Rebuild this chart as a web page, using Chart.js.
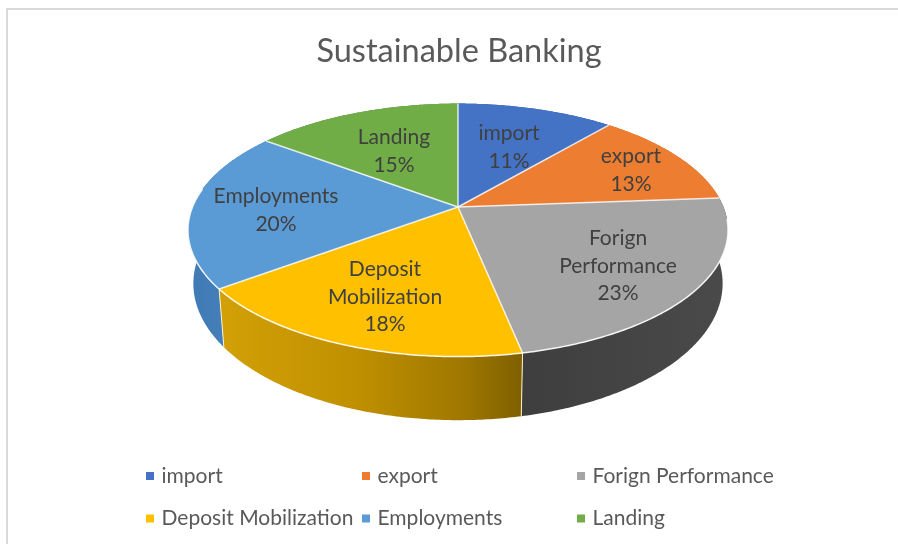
<!DOCTYPE html>
<html>
<head>
<meta charset="utf-8">
<style>
html,body{margin:0;padding:0;background:#fff;overflow:hidden;width:898px;height:544px}
#frame{position:absolute;left:6px;top:8px;right:0;bottom:0;border-left:2px solid #d9d9d9;border-top:2px solid #d9d9d9}
#wrap{position:absolute;left:0;top:0;width:898px;height:544px}
</style>
<script src="https://cdn.jsdelivr.net/npm/chart.js@4/dist/chart.umd.min.js"></script>
</head>
<body>
<div id="frame"></div>
<div id="wrap"><canvas id="c" width="898" height="544"></canvas></div>
<script>
const titleText = "Sustainable Banking";
const categories = ["import","export","Forign Performance","Deposit Mobilization","Employments","Landing"];
const shares = [11.2,12.6,23.0,18.0,20.4,14.8];
const faceColors = ["#4472C4","#ED7D31","#A5A5A5","#FFC000","#5B9BD5","#70AD47"];
const wallFromColors = ["#2F5597","#C55A11","#4A4A4A","#7F6000","#4A85BE","#548235"];
const wallToColors = ["#2F5597","#C55A11","#3E3E3E","#D2A006","#3F7AB5","#548235"];
const labelLines = [["import"],["export"],["Forign","Performance"],["Deposit","Mobilization"],["Employments"],["Landing"]];
const labelCentres = [[509,147],[631,170],[618,266],[385,297],[276,210],[394,151]];
const legendColumns = [146,362,577];
const legendRows = [476,518.5];

const FONT = "Lato, Carlito, sans-serif";
// Projection of the pie's plane (a tilted disc seen in perspective)
const P = {cx:458, cy:207, A:265.5, B:122.3, k:0.1825, wallXScale:0.98, wallY0:345, wallYT:287, wallYS:1.08};
function facePt(a, f=1){
  const u=Math.cos(a)*f, v=Math.sin(a)*f, w=1-P.k*v;
  return [P.cx+P.A*u/w, P.cy+P.B*v/w];
}
function wallPt(a){
  const t=facePt(a);
  return [P.cx+(t[0]-P.cx)*P.wallXScale, P.wallY0+P.wallYS*(t[1]-P.wallYT)];
}
function arcPoints(fn,s,e){
  const n=Math.max(8,Math.ceil((e-s)/0.01)), pts=[];
  for(let i=0;i<=n;i++) pts.push(fn(s+(e-s)*i/n));
  return pts;
}
function trace(ctx,pts){pts.forEach((p,i)=>i?ctx.lineTo(p[0],p[1]):ctx.moveTo(p[0],p[1]));}

const pie3d = {
  id:"pie3d",
  beforeDatasetsDraw(chart){
    const ctx=chart.ctx, arcs=chart.getDatasetMeta(0).data;
    ctx.save();
    // walls
    arcs.forEach((el,i)=>{
      const {startAngle:s,endAngle:e}=el;
      const tp=arcPoints(facePt,s,e), bt=arcPoints(wallPt,s,e).reverse();
      const xs=tp.concat(bt).map(p=>p[0]);
      const g=ctx.createLinearGradient(Math.min(...xs),0,Math.max(...xs),0);
      g.addColorStop(0,wallToColors[i]); g.addColorStop(1,wallFromColors[i]);
      if(i===3){ g.addColorStop(0.45,"#C09000"); g.addColorStop(0.8,"#A07800"); }
      ctx.beginPath(); trace(ctx,tp.concat(bt)); ctx.closePath();
      ctx.fillStyle=g; ctx.fill();
    });
    // wall separators on the visible front
    ctx.strokeStyle="#fff2cc"; ctx.lineWidth=1;
    arcs.forEach(el=>{
      const a=el.startAngle, t=facePt(a);
      if(Math.sin(a)>0.3){
        const b=wallPt(a);
        ctx.beginPath(); ctx.moveTo(t[0],t[1]); ctx.lineTo(b[0],b[1]); ctx.stroke();
      }
    });
    // top faces
    arcs.forEach((el,i)=>{
      const pts=[[P.cx,P.cy]].concat(arcPoints(facePt,el.startAngle,el.endAngle));
      ctx.beginPath(); trace(ctx,pts); ctx.closePath();
      ctx.fillStyle=faceColors[i]; ctx.fill();
    });
    // slice edges and lit front rim
    ctx.strokeStyle="rgba(255,255,255,0.8)"; ctx.lineWidth=1.5;
    arcs.forEach(el=>{
      const t=facePt(el.startAngle);
      ctx.beginPath(); ctx.moveTo(P.cx,P.cy); ctx.lineTo(t[0],t[1]); ctx.stroke();
    });
    ctx.strokeStyle="rgba(255,255,255,0.9)"; ctx.lineWidth=1.5;
    ctx.beginPath();
    trace(ctx,arcPoints(facePt,0.1,Math.PI+0.15));
    ctx.stroke();
    ctx.restore();
    return false; // the arcs were painted through the projection above
  },
  afterDraw(chart){
    const ctx=chart.ctx, arcs=chart.getDatasetMeta(0).data;
    const total=shares.reduce((a,b)=>a+b,0);
    ctx.save();
    // data labels
    ctx.font="21px "+FONT; ctx.fillStyle="#404040"; ctx.textAlign="center"; ctx.textBaseline="middle";
    arcs.forEach((el,i)=>{
      const lines=labelLines[i].concat([Math.round(shares[i]/total*100)+"%"]);
      const h=27.5, y0=labelCentres[i][1]-(lines.length-1)*h/2;
      lines.forEach((t,j)=>ctx.fillText(t,labelCentres[i][0],y0+j*h));
    });
    // legend
    ctx.font="21px "+FONT; ctx.fillStyle="#595959"; ctx.textAlign="left";
    categories.forEach((name,i)=>{
      const x=legendColumns[i%3], y=legendRows[Math.floor(i/3)];
      ctx.fillStyle=faceColors[i]; ctx.fillRect(x,y-4,8,8);
      ctx.fillStyle="#595959"; ctx.fillText(name,x+15.5,y);
    });
    ctx.restore();
  }
};

new Chart(document.getElementById("c"),{
  type:"pie",
  data:{labels:categories,datasets:[{data:shares,backgroundColor:faceColors,borderWidth:0}]},
  options:{
    responsive:false,animation:false,
    layout:{padding:{left:20,top:32}},
    plugins:{
      legend:{display:false},tooltip:{enabled:false},
      title:{display:true,text:titleText,color:"#595959",font:{family:FONT,size:32.5,weight:"normal"},padding:0}
    }
  },
  plugins:[pie3d]
});
</script>
</body>
</html>
